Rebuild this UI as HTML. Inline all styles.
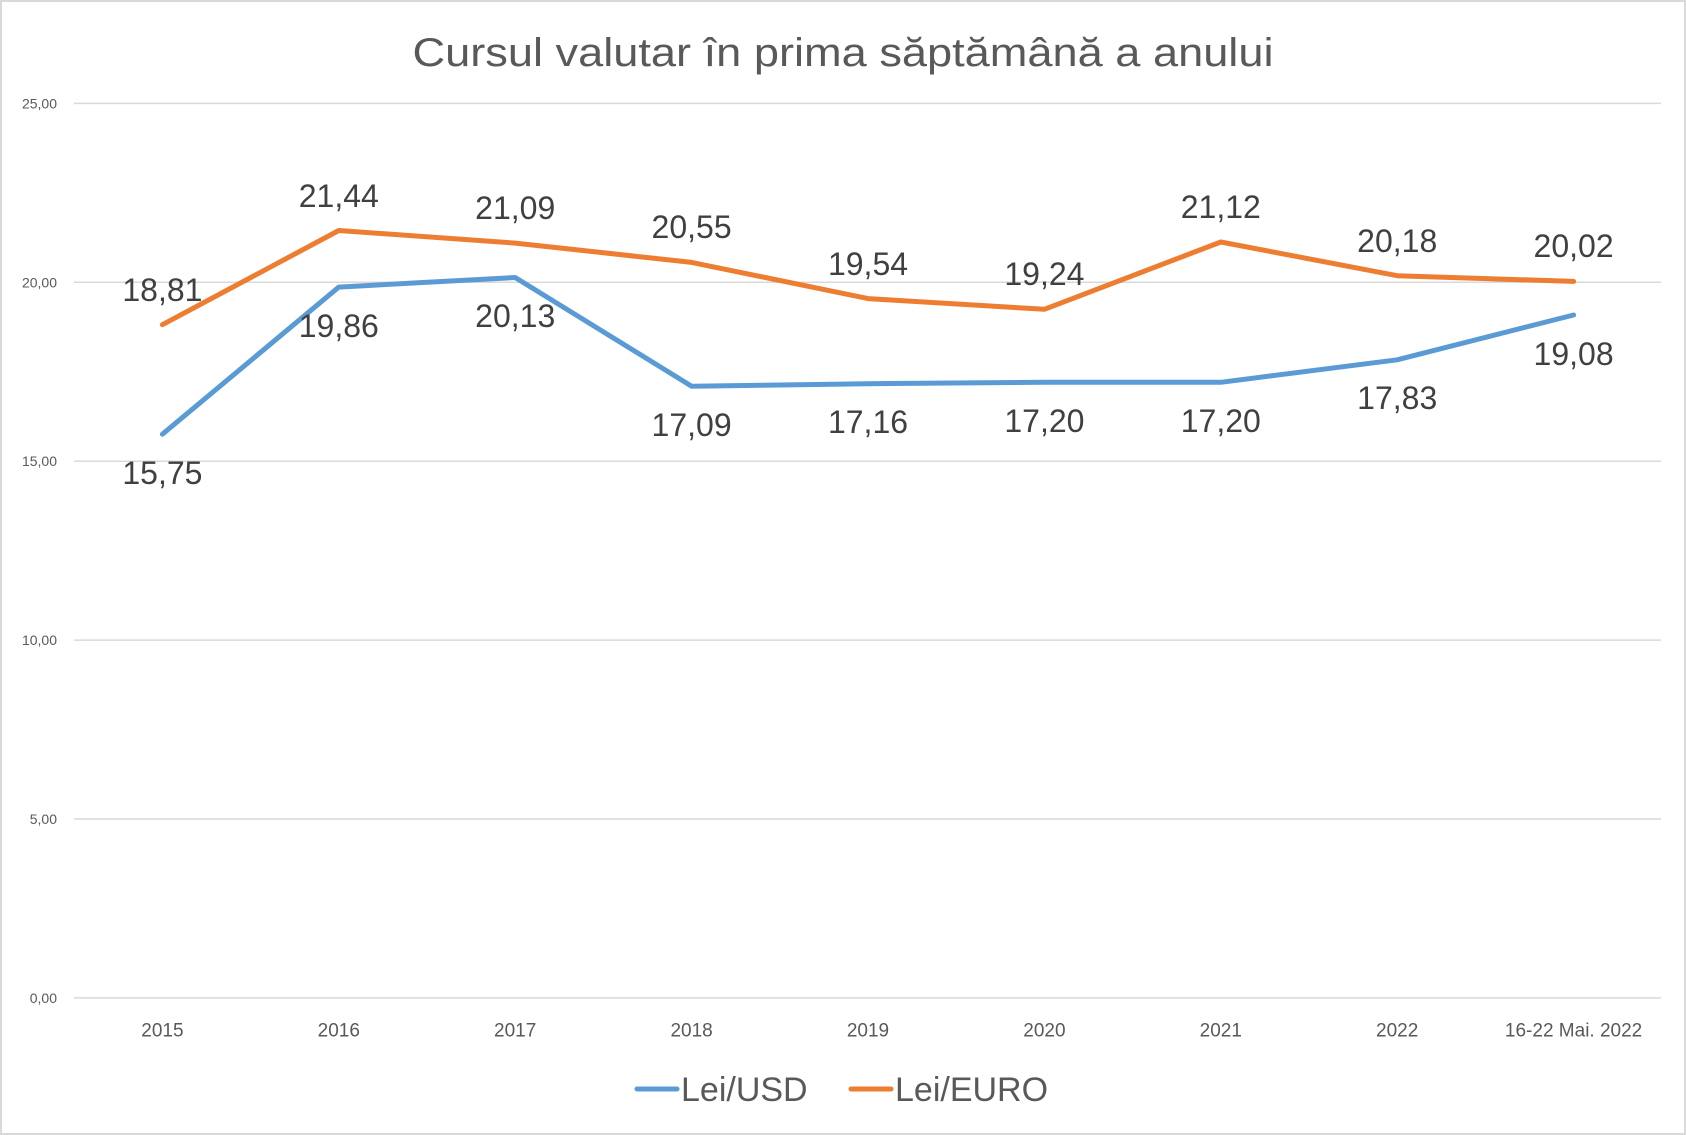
<!DOCTYPE html>
<html><head><meta charset="utf-8"><style>
html,body{margin:0;padding:0;background:#fff}
svg{display:block;font-family:"Liberation Sans",sans-serif}
</style></head><body>
<svg width="1686" height="1135" viewBox="0 0 1686 1135" xmlns="http://www.w3.org/2000/svg">
<rect x="1" y="1" width="1684" height="1133" fill="#fff" stroke="#d9d9d9" stroke-width="2"/>
<text x="843" y="66" text-anchor="middle" font-size="40" fill="#595959" textLength="861" lengthAdjust="spacingAndGlyphs">Cursul valutar în prima săptămână a anului</text>
<g stroke="#d9d9d9" stroke-width="1.5">
<line x1="74" x2="1661" y1="103.4" y2="103.4"/>
<line x1="74" x2="1661" y1="282.3" y2="282.3"/>
<line x1="74" x2="1661" y1="461.2" y2="461.2"/>
<line x1="74" x2="1661" y1="640.1" y2="640.1"/>
<line x1="74" x2="1661" y1="819" y2="819"/>
<line x1="74" x2="1661" y1="997.9" y2="997.9"/>
</g>
<g font-size="14" fill="#595959" text-anchor="end" dominant-baseline="central">
<text x="57" y="103.4">25,00</text>
<text x="57" y="282.3">20,00</text>
<text x="57" y="461.2">15,00</text>
<text x="57" y="640.1">10,00</text>
<text x="57" y="819">5,00</text>
<text x="57" y="997.9">0,00</text>
</g>
<g font-size="19" fill="#595959" text-anchor="middle" dominant-baseline="central">
<text x="162.4" y="1031">2015</text>
<text x="338.8" y="1031">2016</text>
<text x="515.2" y="1031">2017</text>
<text x="691.6" y="1031">2018</text>
<text x="868" y="1031">2019</text>
<text x="1044.4" y="1031">2020</text>
<text x="1220.8" y="1031">2021</text>
<text x="1397.2" y="1031">2022</text>
<text x="1573.6" y="1031">16-22 Mai. 2022</text>
</g>
<polyline fill="none" stroke="#5b9bd5" stroke-width="5" stroke-linecap="round" stroke-linejoin="round" points="162.4,434.2 338.8,287.1 515.2,277.5 691.6,386.2 868,383.7 1044.4,382.3 1220.8,382.3 1397.2,359.8 1573.6,315"/>
<polyline fill="none" stroke="#ed7d31" stroke-width="5" stroke-linecap="round" stroke-linejoin="round" points="162.4,324.7 338.8,230.5 515.2,243.1 691.6,262.4 868,298.6 1044.4,309.3 1220.8,242 1397.2,275.7 1573.6,281.4"/>
<g font-size="32" fill="#404040" text-anchor="middle" dominant-baseline="central">
<text x="162.4" y="473">15,75</text>
<text x="338.8" y="326">19,86</text>
<text x="515.2" y="316">20,13</text>
<text x="691.6" y="425">17,09</text>
<text x="868" y="422">17,16</text>
<text x="1044.4" y="421">17,20</text>
<text x="1220.8" y="421">17,20</text>
<text x="1397.2" y="398">17,83</text>
<text x="1573.6" y="354">19,08</text>
<text x="162.4" y="290">18,81</text>
<text x="338.8" y="196">21,44</text>
<text x="515.2" y="208">21,09</text>
<text x="691.6" y="227">20,55</text>
<text x="868" y="264">19,54</text>
<text x="1044.4" y="274">19,24</text>
<text x="1220.8" y="207">21,12</text>
<text x="1397.2" y="241">20,18</text>
<text x="1573.6" y="246">20,02</text>
</g>
<line x1="637" x2="677" y1="1089" y2="1089" stroke="#5b9bd5" stroke-width="5" stroke-linecap="round"/>
<text x="681" y="1090" font-size="34" fill="#595959" dominant-baseline="central">Lei/USD</text>
<line x1="851" x2="891" y1="1089" y2="1089" stroke="#ed7d31" stroke-width="5" stroke-linecap="round"/>
<text x="895" y="1090" font-size="34" fill="#595959" dominant-baseline="central">Lei/EURO</text>
</svg>
</body></html>
